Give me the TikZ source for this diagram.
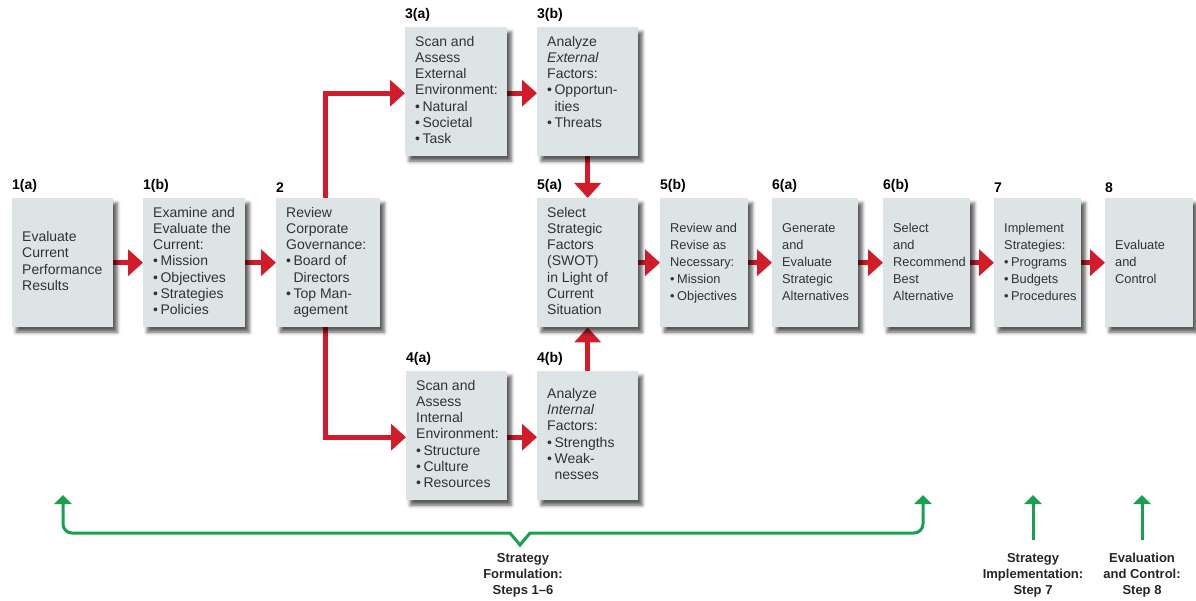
\documentclass[tikz,border=0pt]{standalone}
\usepackage{fontspec}
\setmainfont{Liberation Sans}
\usetikzlibrary{arrows.meta,shadows.blur,calc}
\pgfdeclarelayer{bg}
\pgfsetlayers{bg,main}
\definecolor{boxfill}{RGB}{221,228,230}
\definecolor{redarr}{RGB}{210,28,42}
\definecolor{greenarr}{RGB}{22,160,80}
\definecolor{txt}{RGB}{50,50,50}
\newcommand\bu{\textbullet\hspace{2.5pt}}
\newcommand\bi{\hphantom{\textbullet\hspace{2.5pt}}}
\newcommand\bt[2]{\makebox[#1][l]{\begin{tabular}{@{}l@{}}#2\end{tabular}}}
\begin{document}
\begin{tikzpicture}[x=1pt,y=-1pt,
  stepbox/.style={fill=boxfill, draw=none, anchor=north west,
    blur shadow={shadow xshift=4pt, shadow yshift=-5pt, shadow blur radius=3.5pt, shadow opacity=65},
    minimum height=129pt, inner xsep=10pt, inner ysep=0pt,
    text=txt, font=\fontsize{14}{16.2}\selectfont},
  smallbox/.style={stepbox, font=\fontsize{12.8}{17}\selectfont},
  lbl/.style={anchor=south west, inner sep=0pt, font=\fontsize{14}{16}\selectfont\bfseries, text=black},
  rarr/.style={draw=redarr, line width=5pt, -{Triangle[length=15pt,width=26pt]}},
  garr/.style={draw=greenarr, line width=3pt, -{Triangle[length=9pt,width=17pt]}},
  glbl/.style={anchor=north, align=center, inner sep=0pt, font=\fontsize{13}{16}\selectfont\bfseries, text=black!85}
]
\useasboundingbox (0,0) rectangle (1196,601);

\node[stepbox] (a1) at (12,198) {\bt{81pt}{Evaluate\\Current\\Performance\\Results}};
\node[stepbox] (b1) at (143,198) {\bt{82pt}{Examine and\\Evaluate the\\Current:\\\bu Mission\\\bu Objectives\\\bu Strategies\\\bu Policies}};
\node[stepbox] (n2) at (276,198) {\bt{84pt}{Review\\Corporate\\Governance:\\\bu Board of\\\bi Directors\\\bu Top Man-\\\bi agement}};
\node[stepbox] (a3) at (405,27) {\bt{82pt}{Scan and\\Assess\\External\\Environment:\\\bu Natural\\\bu Societal\\\bu Task}};
\node[stepbox] (b3) at (537,27) {\bt{81pt}{Analyze\\\textit{External}\\Factors:\\\bu Opportun-\\\bi ities\\\bu Threats\\\mbox{}}};
\node[stepbox] (a5) at (537,198) {\bt{81pt}{Select\\Strategic\\Factors\\(SWOT)\\in Light of\\Current\\Situation}};
\node[stepbox] (a4) at (406,371) {\bt{81pt}{Scan and\\Assess\\Internal\\Environment:\\\bu Structure\\\bu Culture\\\bu Resources}};
\node[stepbox] (b4) at (537,371) {\bt{81pt}{Analyze\\\textit{Internal}\\Factors:\\\bu Strengths\\\bu Weak-\\\bi nesses}};
\node[smallbox] (b5) at (660,198) {\bt{68pt}{Review and\\Revise as\\Necessary:\\\bu Mission\\\bu Objectives}};
\node[smallbox] (a6) at (772,198) {\bt{66pt}{Generate\\and\\Evaluate\\Strategic\\Alternatives}};
\node[smallbox] (b6) at (883,198) {\bt{67pt}{Select\\and\\Recommend\\Best\\Alternative}};
\node[smallbox] (s7) at (994,198) {\bt{67pt}{Implement\\Strategies:\\\bu Programs\\\bu Budgets\\\bu Procedures}};
\node[smallbox] (s8) at (1105,198) {\bt{68pt}{Evaluate\\and\\Control}};

\node[lbl] (la1) at ($(a1.north west)+(0,-5)$) {1(a)};
\node[lbl] (lb1) at ($(b1.north west)+(0,-5)$) {1(b)};
\node[lbl] (ln2) at ($(n2.north west)+(0,-5)$) {2};
\node[lbl] (la3) at ($(a3.north west)+(0,-5)$) {3(a)};
\node[lbl] (lb3) at ($(b3.north west)+(0,-5)$) {3(b)};
\node[lbl] (la5) at ($(a5.north west)+(0,-5)$) {5(a)};
\node[lbl] (la4) at ($(a4.north west)+(0,-5)$) {4(a)};
\node[lbl] (lb4) at ($(b4.north west)+(0,-5)$) {4(b)};
\node[lbl] (lb5) at ($(b5.north west)+(0,-5)$) {5(b)};
\node[lbl] (la6) at ($(a6.north west)+(0,-5)$) {6(a)};
\node[lbl] (lb6) at ($(b6.north west)+(0,-5)$) {6(b)};
\node[lbl] (ls7) at ($(s7.north west)+(0,-5)$) {7};
\node[lbl] (ls8) at ($(s8.north west)+(0,-5)$) {8};

\begin{pgfonlayer}{bg}
\draw[rarr] (a1.east) -- (b1.west);
\draw[rarr] (b1.east) -- (n2.west);
\draw[rarr] ($(n2.north)+(-3,0)$) |- ($(a3.west)+(0,1.5)$);
\draw[rarr] ($(n2.south)+(-3,0)$) |- ($(a4.west)+(0,1.5)$);
\draw[rarr] ($(a3.east)+(0,1.5)$) -- ($(b3.west)+(0,1.5)$);
\draw[rarr] ($(a4.east)+(0,1.5)$) -- ($(b4.west)+(0,1.5)$);
\draw[rarr] (b3.south) -- (a5.north);
\draw[rarr] (b4.north) -- (a5.south);
\draw[rarr] (a5.east) -- (b5.west);
\draw[rarr] (b5.east) -- (a6.west);
\draw[rarr] (a6.east) -- (b6.west);
\draw[rarr] (b6.east) -- (s7.west);
\draw[rarr] (s7.east) -- (s8.west);
\end{pgfonlayer}

\node[glbl] (gf) at (523,553) {Strategy\\Formulation:\\Steps 1--6};
\node[glbl] (gi) at (1033,553) {Strategy\\Implementation:\\Step 7};
\node[glbl] (ge) at (1142,553) {Evaluation\\and Control:\\Step 8};

\coordinate (gL) at (63,495);
\coordinate (gR) at (923,495);
\coordinate (gN) at (520,545);
\draw[garr, {Triangle[length=9pt,width=17pt]}-{Triangle[length=9pt,width=17pt]}]
  (gL) -- (63,524) arc[start angle=180, end angle=90, radius=9]
  -- (510,533) -- (gN) -- (530,533) -- (914,533)
  arc[start angle=90, end angle=0, radius=9] -- (gR);
\draw[garr] ($(gi.north)+(0,-13)$) -- (1033,495);
\draw[garr] ($(ge.north)+(0,-13)$) -- (1142,495);
\end{tikzpicture}
\end{document}
